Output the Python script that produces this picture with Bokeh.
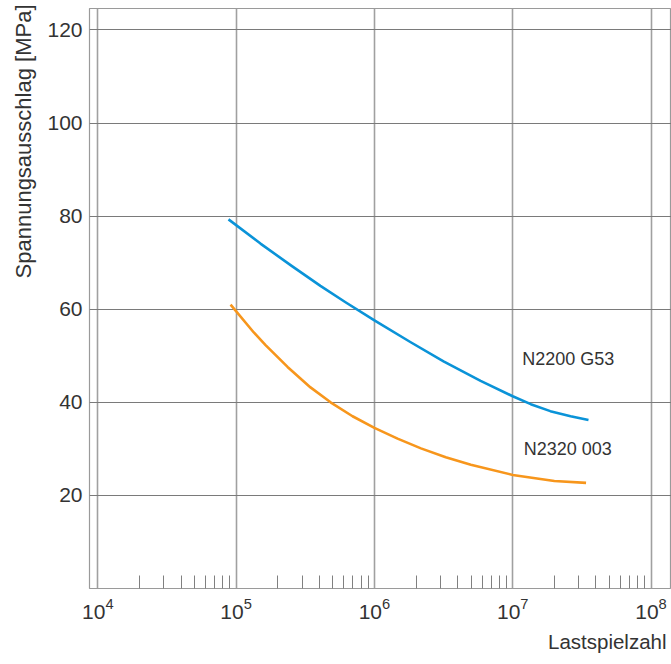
from bokeh.plotting import figure
from bokeh.models import Range1d, FixedTicker, Title, ColumnDataSource
from bokeh.core.properties import value
from bokeh.embed import file_html
from bokeh.resources import INLINE

# Data (load cycles, stress amplitude in MPa)
blue_n = [8.81e4, 1.50e5, 2.52e5, 4.07e5, 6.18e5, 1.0e6, 1.83e6, 3.16e6, 5.86e6,
          1.0e7, 1.35e7, 1.87e7, 2.62e7, 3.53e7]
blue_s = [79.3, 74.1, 69.3, 65.0, 61.5, 57.6, 52.9, 48.8, 44.6,
          41.3, 39.6, 38.1, 37.0, 36.2]
orange_n = [9.12e4, 1.343e5, 1.633e5, 2.355e5, 3.45e5, 4.82e5, 6.95e5, 1.0e6,
            1.47e6, 2.17e6, 3.28e6, 4.98e6, 1.0e7, 2.0e7, 3.39e7]
orange_s = [61.0, 55.0, 52.3, 47.6, 43.2, 40.0, 37.0, 34.5,
            32.2, 30.1, 28.2, 26.6, 24.4, 23.1, 22.7]
series_names = ["N2200 G53", "N2320 003"]
label_n = [1.17e7, 1.2e7]
label_s = [49.4, 30.0]
y_ticks = [20, 40, 60, 80, 100, 120]
x_ticks = [1e4, 1e5, 1e6, 1e7, 1e8]
y_title = "Spannungsausschlag [MPa]"
x_title = "Lastspielzahl"

FONT = "Liberation Sans"
TXT = "#333333"

W, H = 671, 664
p = figure(width=W, height=H, x_axis_type="log", output_backend="svg",
           toolbar_location=None,
           x_range=Range1d(10 ** 3.940, 10 ** 8.148), y_range=Range1d(0, 124.6),
           min_border_left=89, min_border_right=0, min_border_top=8,
           min_border_bottom=76)
p.background_fill_color = "white"
p.border_fill_color = "white"
p.outline_line_color = "#9a9a9a"
p.outline_line_width = 1.2

minor = [k * 10 ** d for d in range(4, 8) for k in range(2, 10)]
p.xaxis.ticker = FixedTicker(ticks=x_ticks, minor_ticks=minor)
p.yaxis.ticker = FixedTicker(ticks=y_ticks)

for ax in (p.xaxis[0], p.yaxis[0]):
    ax.axis_line_color = None
    ax.major_tick_in = 0
    ax.major_tick_out = 0
    ax.major_label_text_font = FONT
    ax.major_label_text_font_size = "21px"
    ax.major_label_text_color = TXT
p.yaxis.minor_tick_line_color = None
p.yaxis.major_label_standoff = 7
p.xaxis.major_label_standoff = 9
p.xaxis.minor_tick_in = 13
p.xaxis.minor_tick_out = 0
p.xaxis.minor_tick_line_color = "#808080"
p.xaxis.minor_tick_line_width = 1

p.xgrid.grid_line_color = "#a0a0a0"
p.xgrid.grid_line_width = 1.6
p.ygrid.grid_line_color = "#7a7a7a"
p.ygrid.grid_line_width = 1.1

p.line(blue_n, blue_s, line_color="#0a93d8", line_width=2.6, line_join="round")
p.line(orange_n, orange_s, line_color="#f7961c", line_width=2.6, line_join="round")

src = ColumnDataSource(dict(x=label_n, y=label_s, t=series_names))
p.text(x="x", y="y", text="t", source=src, text_font=value(FONT),
       text_font_size="18px", text_color=TXT, text_align="left",
       text_baseline="middle")

yt = Title(text=y_title, align="right", text_font=FONT, text_font_size="22px",
           text_font_style="normal", text_color=TXT, standoff=17, offset=-4)
xt = Title(text=x_title, align="right", text_font=FONT, text_font_size="20.5px",
           text_font_style="normal", text_color=TXT, standoff=13, offset=5)
p.add_layout(yt, "left")
p.add_layout(xt, "below")

open("out.html", "w").write(file_html(p, INLINE))
